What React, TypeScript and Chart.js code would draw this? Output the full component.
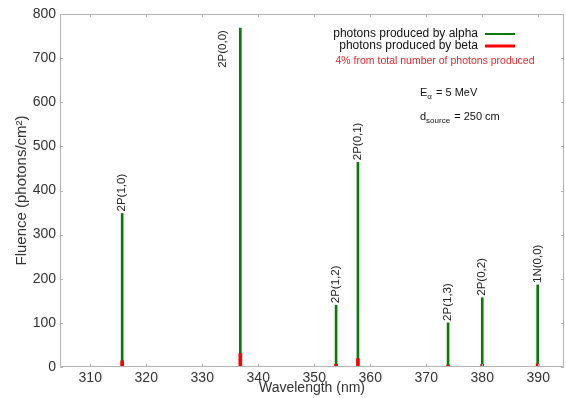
import { useEffect, useRef } from "react";
import { Chart, registerables } from "chart.js";

Chart.register(...registerables);

// Emission bands: peak wavelength (nm) and fluence (photons/cm²)
const bandLabels = ["2P(1,0)", "2P(0,0)", "2P(1,2)", "2P(0,1)", "2P(1,3)", "2P(0,2)", "1N(0,0)"];
const wavelengths = [315.7, 336.8, 353.9, 357.8, 373.9, 380.0, 389.9];
const alphaFluence = [348, 768, 140, 464, 100, 157, 186];
const betaFluence = [14, 31, 6, 19, 4, 6, 7];

const xTicks = [310, 320, 330, 340, 350, 360, 370, 380, 390];
const yTicks = [0, 100, 200, 300, 400, 500, 600, 700, 800];

const legendLines = ["photons produced by alpha", "photons produced by beta"];
const legendNote = "4% from total number of photons produced";

const FONT = '"Liberation Sans", Arial, sans-serif';
const GREEN = "#0b7a0b";
const RED = "#ff0000";
const FRAME = "#b4b4b4";

const overlayPlugin = {
  id: "overlay",
  afterDatasetsDraw(chart: any) {
    const { ctx, chartArea: a, scales } = chart;
    const xs = scales.x;
    const ys = scales.y;
    ctx.save();

    // frame
    ctx.strokeStyle = FRAME;
    ctx.lineWidth = 1;
    ctx.strokeRect(a.left + 0.5, a.top + 0.5, a.right - a.left - 1, a.bottom - a.top - 1);

    // inward tick marks on all four sides
    ctx.beginPath();
    xTicks.forEach((v) => {
      const px = Math.round(xs.getPixelForValue(v)) + 0.5;
      ctx.moveTo(px, a.bottom);
      ctx.lineTo(px, a.bottom - 3);
      ctx.moveTo(px, a.top);
      ctx.lineTo(px, a.top + 3);
    });
    yTicks.forEach((v) => {
      const py = Math.round(ys.getPixelForValue(v)) + 0.5;
      ctx.moveTo(a.left, py);
      ctx.lineTo(a.left + 3, py);
      ctx.moveTo(a.right, py);
      ctx.lineTo(a.right - 3, py);
    });
    ctx.stroke();

    // band labels, rotated, above each peak
    ctx.font = `11.5px ${FONT}`;
    ctx.fillStyle = "#222";
    ctx.textBaseline = "middle";
    ctx.textAlign = "left";
    bandLabels.forEach((label, i) => {
      const px = xs.getPixelForValue(wavelengths[i]);
      const py = ys.getPixelForValue(alphaFluence[i]);
      const tw = ctx.measureText(label).width;
      let lx = px;
      let ly = py - 2;
      if (ly - tw < a.top + 4) {
        // no room above: put it beside the line
        lx = px - 17;
        ly = py + 2 + tw;
      }
      ctx.save();
      ctx.translate(lx, ly);
      ctx.rotate(-Math.PI / 2);
      ctx.fillText(label, 0, 0);
      ctx.restore();
    });

    // legend
    ctx.font = `12px ${FONT}`;
    ctx.textAlign = "right";
    const colors = [GREEN, RED];
    const widths = [2, 3];
    legendLines.forEach((t, i) => {
      const y = 34 + i * 12;
      ctx.fillStyle = "#111";
      ctx.fillText(t, 478, y);
      ctx.strokeStyle = colors[i];
      ctx.lineWidth = widths[i];
      ctx.beginPath();
      ctx.moveTo(485, y);
      ctx.lineTo(515, y);
      ctx.stroke();
    });
    ctx.font = `10.5px ${FONT}`;
    ctx.fillStyle = "#e8262b";
    ctx.textAlign = "center";
    ctx.fillText(legendNote, 435, 61);

    // source parameters
    ctx.fillStyle = "#111";
    ctx.textAlign = "left";
    ctx.font = `11px ${FONT}`;
    let x = 420;
    ctx.fillText("E", x, 93);
    x += ctx.measureText("E").width;
    ctx.font = `8px ${FONT}`;
    ctx.fillText("α", x, 97);
    x += ctx.measureText("α").width + 1;
    ctx.font = `11px ${FONT}`;
    ctx.fillText(" = 5 MeV", x, 93);

    x = 420;
    ctx.fillText("d", x, 117);
    x += ctx.measureText("d").width;
    ctx.font = `8px ${FONT}`;
    ctx.fillText("source", x, 121);
    x += ctx.measureText("source").width + 1;
    ctx.font = `11px ${FONT}`;
    ctx.fillText(" = 250 cm", x, 117);

    ctx.restore();
  },
};

export default function App() {
  const ref = useRef<HTMLCanvasElement | null>(null);

  useEffect(() => {
    if (!ref.current) return;
    const chart = new Chart(ref.current, {
      type: "bar",
      data: {
        datasets: [
          {
            label: legendLines[1],
            data: wavelengths.map((w, i) => ({ x: w, y: betaFluence[i] })),
            backgroundColor: RED,
            barThickness: 3,
            grouped: false,
            order: 0,
          },
          {
            label: legendLines[0],
            data: wavelengths.map((w, i) => ({ x: w, y: alphaFluence[i] })),
            backgroundColor: GREEN,
            barThickness: 2,
            grouped: false,
            order: 1,
          },
        ],
      } as any,
      options: {
        animation: false,
        responsive: false,
        devicePixelRatio: 1,
        layout: { padding: { top: 14, right: 2, left: 0, bottom: 0 } },
        plugins: { legend: { display: false }, tooltip: { enabled: false } },
        scales: {
          x: {
            type: "linear",
            min: 304.6,
            max: 394.6,
            offset: false,
            grid: { display: false, drawTicks: false },
            border: { display: false },
            afterBuildTicks: (s: any) => {
              s.ticks = xTicks.map((v) => ({ value: v }));
            },
            afterFit: (s: any) => {
              s.height = 31;
            },
            ticks: {
              font: { family: FONT, size: 14 },
              color: "#333",
              padding: 3,
              maxRotation: 0,
            },
            title: {
              display: true,
              text: "Wavelength (nm)",
              font: { family: FONT, size: 14 },
              color: "#333",
              padding: { top: 0, bottom: 1 },
            },
          },
          y: {
            min: 0,
            max: 800,
            grid: { display: false, drawTicks: false },
            border: { display: false },
            afterBuildTicks: (s: any) => {
              s.ticks = yTicks.map((v) => ({ value: v }));
            },
            afterFit: (s: any) => {
              s.width = 60;
            },
            ticks: {
              font: { family: FONT, size: 14 },
              color: "#333",
              padding: 4,
            },
            title: {
              display: true,
              text: "Fluence (photons/cm²)",
              font: { family: FONT, size: 15 },
              color: "#333",
              padding: { top: 13, bottom: 0 },
            },
          },
        },
      } as any,
      plugins: [overlayPlugin],
    });
    return () => chart.destroy();
  }, []);

  return (
    <div style={{ position: "fixed", left: 0, top: 0, width: 566, height: 398, background: "#fff" }}>
      <canvas ref={ref} width={566} height={398} />
    </div>
  );
}
